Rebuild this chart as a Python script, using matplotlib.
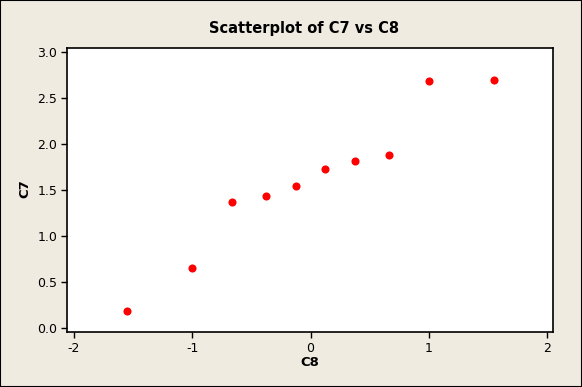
import matplotlib
matplotlib.use("Agg")
import matplotlib.pyplot as plt
from matplotlib.patches import Rectangle

# data
c8 = [-1.55, -1.0, -0.66, -0.38, -0.12, 0.12, 0.38, 0.66, 1.0, 1.55]
c7 = [0.19, 0.65, 1.37, 1.43, 1.54, 1.73, 1.82, 1.88, 2.68, 2.70]
xticks = [-2, -1, 0, 1, 2]
yticks = [0.0, 0.5, 1.0, 1.5, 2.0, 2.5, 3.0]

bg = "#efebe1"
fig = plt.figure(figsize=(5.82, 3.87), dpi=100, facecolor=bg)
fig.patches.append(Rectangle((0, 0), 1, 1, transform=fig.transFigure,
                             fill=False, edgecolor="black", linewidth=1.5))

ax = fig.add_axes([67/582, 1 - 332/387, (553 - 67)/582, (332 - 48)/387])
ax.set_facecolor("white")
ax.scatter(c8, c7, s=34, color="#ff0000", zorder=3, linewidths=0)

ax.set_xlim(-2.059, 2.05)
ax.set_ylim(-0.043, 3.043)
ax.set_xticks(xticks)
ax.set_yticks(yticks)
ax.set_xticklabels([str(t) for t in xticks])
ax.set_yticklabels(["%.1f" % t for t in yticks])
ax.tick_params(direction="out", length=4, width=1, labelsize=9, pad=3)
for s in ax.spines.values():
    s.set_linewidth(1.2)

fig.text(304/582, 1 - 28/387, "Scatterplot of C7 vs C8", ha="center", va="center",
         fontsize=10.5, fontweight="bold")
fig.text(310/582, 1 - 363/387, "C8", ha="center", va="center",
         fontsize=9.5, fontweight="bold")
fig.text(25/582, 1 - 189/387, "C7", ha="center", va="center", rotation=90,
         fontsize=9.5, fontweight="bold")

fig.savefig("out.png", dpi=100, facecolor=bg)
